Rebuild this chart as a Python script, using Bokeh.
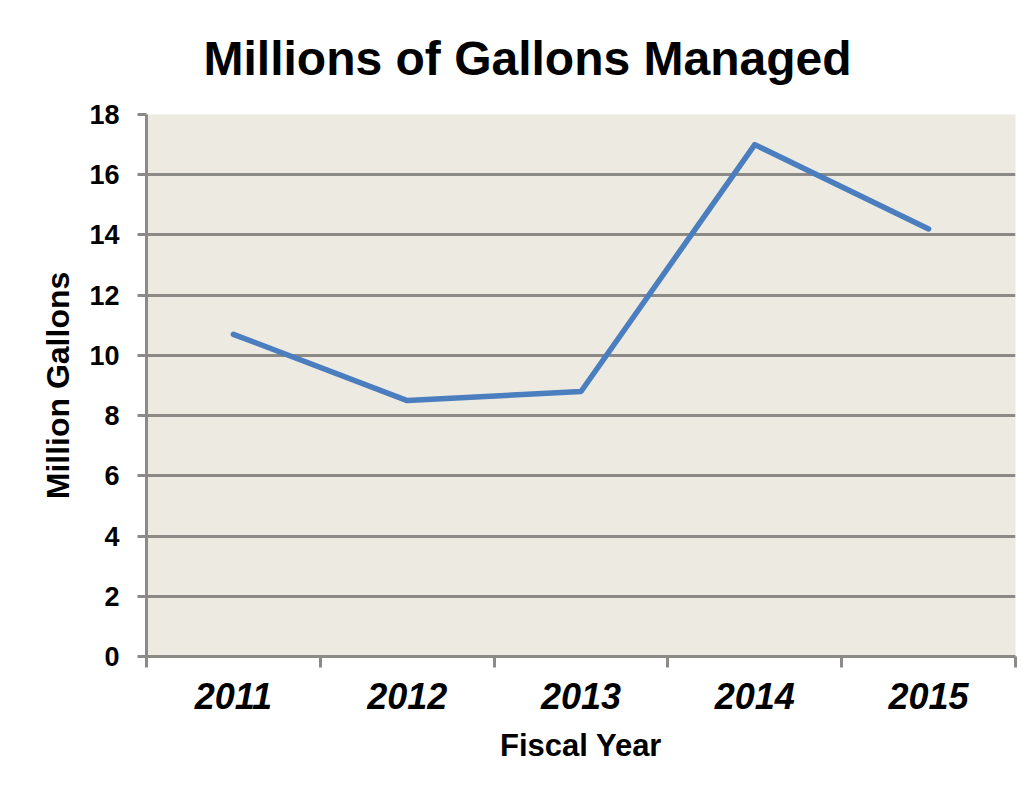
from bokeh.plotting import figure
from bokeh.models import FixedTicker, Range1d, Title
from bokeh.embed import file_html
from bokeh.resources import INLINE

# Data
years = ["2011", "2012", "2013", "2014", "2015"]
gallons = [10.7, 8.5, 8.8, 17.0, 14.2]
y_ticks = [0, 2, 4, 6, 8, 10, 12, 14, 16, 18]

x_pos = [i + 0.5 for i in range(len(years))]
cat_bounds = list(range(len(years) + 1))

FONT = "Liberation Sans"
GRID = "#8C8A86"

p = figure(width=1026, height=793, output_backend="svg", toolbar_location=None,
           x_range=Range1d(0, len(years)), y_range=Range1d(0, 18),
           min_border_left=146, min_border_right=11, min_border_top=114,
           min_border_bottom=137)
p.title = None
p.background_fill_color = "#EDEAE1"
p.border_fill_color = "white"
p.outline_line_color = None

t = Title(text="Millions of Gallons Managed", align="left", offset=57, standoff=59,
          text_font=FONT, text_font_size="48px", text_font_style="bold",
          text_color="black")
p.add_layout(t, "above")

p.line(x_pos, gallons, line_color="#4A7EBF", line_width=5.5,
       line_cap="round", line_join="round")

# x axis
xa = p.xaxis[0]
xa.ticker = FixedTicker(ticks=x_pos, minor_ticks=cat_bounds)
xa.major_label_overrides = {x: y for x, y in zip(x_pos, years)}
xa.major_tick_line_color = None
xa.major_tick_out = 0
xa.major_tick_in = 0
xa.minor_tick_out = 11
xa.minor_tick_in = 0
xa.minor_tick_line_color = GRID
xa.minor_tick_line_width = 3
xa.axis_line_color = GRID
xa.axis_line_width = 3
xa.major_label_text_font = FONT
xa.major_label_text_font_size = "36px"
xa.major_label_text_font_style = "bold italic"
xa.major_label_text_color = "black"
xa.major_label_standoff = 15
xa.axis_label = "Fiscal Year"
xa.axis_label_text_font = FONT
xa.axis_label_text_font_size = "31px"
xa.axis_label_text_font_style = "bold"
xa.axis_label_text_color = "black"
xa.axis_label_standoff = 16

# y axis
ya = p.yaxis[0]
ya.ticker = FixedTicker(ticks=y_ticks)
ya.major_tick_out = 9
ya.major_tick_in = 0
ya.major_tick_line_color = GRID
ya.major_tick_line_width = 3
ya.minor_tick_line_color = None
ya.axis_line_color = GRID
ya.axis_line_width = 3
ya.major_label_text_font = FONT
ya.major_label_text_font_size = "27px"
ya.major_label_text_font_style = "bold"
ya.major_label_text_color = "black"
ya.major_label_standoff = 18
ya.axis_label = "Million Gallons"
ya.axis_label_text_font = FONT
ya.axis_label_text_font_size = "32px"
ya.axis_label_text_font_style = "bold"
ya.axis_label_text_color = "black"
ya.axis_label_standoff = 10

p.xgrid.grid_line_color = None
p.ygrid.grid_line_color = GRID
p.ygrid.grid_line_width = 3

open("out.html", "w").write(file_html(p, INLINE))
